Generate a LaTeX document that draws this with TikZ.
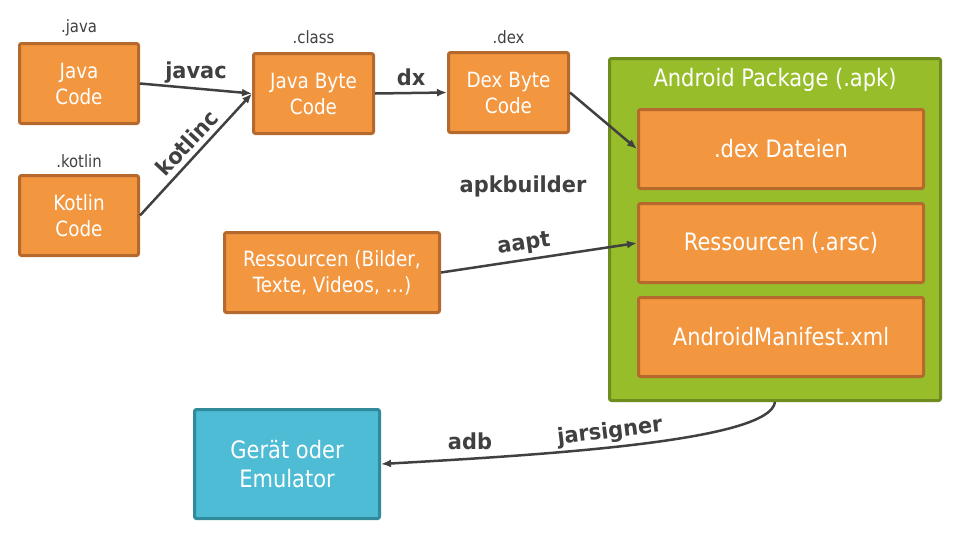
\documentclass[tikz,border=0pt]{standalone}
\usepackage{fontspec}
\setmainfont{DejaVu Sans}[FakeStretch=0.875]
\newfontfamily\toolfont{DejaVu Sans}[FakeStretch=0.95]
\usetikzlibrary{arrows.meta}
\definecolor{boxorange}{HTML}{F29640}
\definecolor{boxorangedark}{HTML}{B5692C}
\definecolor{apkgreen}{HTML}{97BE2A}
\definecolor{apkgreendark}{HTML}{6E8D1E}
\definecolor{devcyan}{HTML}{4DBCD4}
\definecolor{devcyandark}{HTML}{318A9C}
\definecolor{textgray}{HTML}{404040}
\tikzset{>={Latex[length=10pt,width=8pt]}}

\begin{document}
\begin{tikzpicture}[x=1pt, y=-1pt,
  box/.style={draw=boxorangedark, fill=boxorange, line width=3pt, rounded corners=2pt,
    text=white, align=center, font=\fontsize{21}{26}\selectfont,
    minimum width=119pt, minimum height=80pt, inner sep=0pt},
  apkpart/.style={box, font=\fontsize{24}{29}\selectfont, minimum width=285pt, minimum height=79pt},
  tag/.style={text=textgray, font=\fontsize{17}{20}\selectfont, inner sep=0pt},
  tool/.style={text=textgray, font=\toolfont\bfseries\fontsize{22}{26}\selectfont, inner sep=0pt},
  flow/.style={draw=textgray, line width=2.5pt, ->}]
\useasboundingbox (0,0) rectangle (960,550);

% sources
\node[box] (java) at (79,83.5) {Java\\Code};
\node[box] (kotlin) at (79,215.5) {Kotlin\\Code};
\node[tag] (javatag) at (79,28) {.java};
\node[tag] (kotlintag) at (79,161) {.kotlin};

% byte code
\node[box, minimum width=120pt] (jbc) at (313.5,93.5) {Java Byte\\Code};
\node[box, minimum width=120pt] (dbc) at (508.5,92.5) {Dex Byte\\Code};
\node[tag] (classtag) at (313.5,37.5) {.class};
\node[tag] (dextag) at (508.5,37) {.dex};

% the package
\node[draw=apkgreendark, fill=apkgreen, line width=3pt, rounded corners=2pt,
  minimum width=331pt, minimum height=342pt] (apk) at (775,229.5) {};
\node[text=white, font=\fontsize{24}{29}\selectfont] (apktitle) at (775,80) {Android Package (.apk)};
\node[apkpart] (dexf) at (781,149) {.dex Dateien};
\node[apkpart] (arsc) at (781,243) {Ressourcen (.arsc)};
\node[apkpart] (manifest) at (781,337) {AndroidManifest.xml};

\node[box, minimum width=215pt] (res) at (332,272.5) {Ressourcen (Bilder,\\Texte, Videos, \dots)};
\node[draw=devcyandark, fill=devcyan, line width=3pt, rounded corners=2pt, text=white,
  align=center, font=\fontsize{24}{29}\selectfont, minimum width=185pt, minimum height=109pt]
  (dev) at (287,464) {Gerät oder\\Emulator};

% tools
\draw[flow] (java.east) -- (jbc.west);
\draw[flow] (kotlin.east) -- (jbc.west);
\draw[flow] (jbc.east) -- (dbc.west);
\draw[flow] (dbc.east) -- (dexf.west);
\draw[flow] (res.east) -- (arsc.west);
\draw[flow] (apk.south) .. controls +(-5,38) and +(180,-10) .. (dev.east);

\node[tool] (javac) at (196,73) {javac};
\node[tool, rotate=47] (kotlinc) at (187,143) {kotlinc};
\node[tool] (dx) at (411,77.5) {dx};
\node[tool] (apkbuilder) at (523,186) {apkbuilder};
\node[tool, rotate=8] (aapt) at (524,244) {aapt};
\node[tool] (adb) at (470,441) {adb};
\node[tool, rotate=7] (jarsigner) at (610,432) {jarsigner};
\end{tikzpicture}
\end{document}
